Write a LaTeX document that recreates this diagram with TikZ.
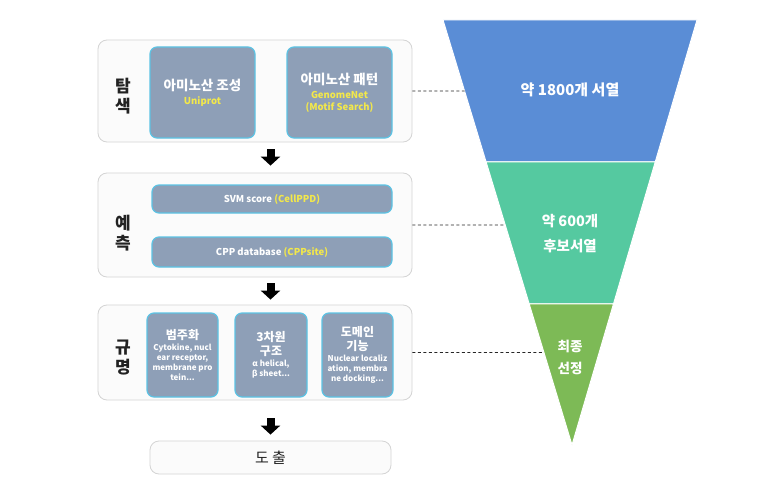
\documentclass[tikz,border=0pt]{standalone}
\usepackage{fontspec}
\setmainfont{Noto Sans CJK KR}
\usepackage{tikz}
\usetikzlibrary{arrows.meta,positioning,calc}
\definecolor{panelline}{HTML}{D4D4D4}
\definecolor{panelbg}{HTML}{FBFBFB}
\definecolor{itemline}{HTML}{5CC3E4}
\definecolor{itembg}{HTML}{8E9FB7}
\definecolor{subyellow}{HTML}{F3E84A}
\definecolor{labeltext}{HTML}{222222}
\definecolor{funnelblue}{HTML}{5A8DD6}
\definecolor{funnelteal}{HTML}{55C9A0}
\definecolor{funnelgreen}{HTML}{7DBA56}
\newcommand{\subtxt}[1]{{\fontsize{9.5}{11}\selectfont\color{subyellow}#1}}
\newcommand{\headtxt}[1]{{\fontsize{12}{13}\selectfont #1}}

\begin{document}
\begin{tikzpicture}[x=1pt,y=-1pt,
    panel/.style={draw=panelline, fill=panelbg, rounded corners=9pt, line width=0.8pt, inner sep=0pt},
    item/.style={draw=itemline, fill=itembg, rounded corners=7pt, line width=1.2pt, inner sep=0pt, text=white, align=center},
    side/.style={font=\fontsize{17}{20}\selectfont\bfseries, text=labeltext, align=center},
    bigarrow/.style={-{Triangle[width=19pt,length=9pt]}, line width=8pt},
    guide/.style={draw=black!85, dash pattern=on 3pt off 2.5pt, line width=0.8pt},
    funnel/.style={draw=white, line width=1pt}
  ]
    \useasboundingbox (0,0) rectangle (776,503);
    \fill[white] (0,0) rectangle (776,503);

    % left: three steps
    \node [panel, minimum width=314pt, minimum height=102pt] (p1) at (255,91) {};
    \node [panel, minimum width=314pt, minimum height=104pt] (p2) at (255,225) {};
    \node [panel, minimum width=314pt, minimum height=95pt] (p3) at (255,352.5) {};
    \node [panel, minimum width=241pt, minimum height=33pt, font=\fontsize{15}{18}\selectfont, text=labeltext] (out) at (270.5,457.5) {도 출};

    \node [side] (l1) at (123,96) {탐\\색};
    \node [side] (l2) at (123,233) {예\\측};
    \node [side] (l3) at (123,357.5) {규\\명};

    \node [item, minimum width=105pt, minimum height=91pt, font=\fontsize{13.5}{15}\selectfont\bfseries] (a1) at (202.5,92.5)
        {아미노산 조성\\[-1pt]\subtxt{Uniprot}};
    \node [item, minimum width=105pt, minimum height=91pt, font=\fontsize{13.5}{15}\selectfont\bfseries] (a2) at (339.5,92.5)
        {아미노산 패턴\\[-1pt]\subtxt{GenomeNet}\\[-3pt]\subtxt{(Motif Search)}};

    \node [item, minimum width=240pt, minimum height=28pt, font=\fontsize{9.5}{11}\selectfont\bfseries] (b1) at (272,199)
        {SVM score {\color{subyellow}(CellPPD)}};
    \node [item, minimum width=240pt, minimum height=30pt, font=\fontsize{9.5}{11}\selectfont\bfseries] (b2) at (272,252)
        {CPP database {\color{subyellow}(CPPsite)}};

    \node [item, minimum width=71pt, minimum height=84pt, font=\fontsize{8}{10}\selectfont\bfseries] (c1) at (182.5,355)
        {\headtxt{범주화}\\[1pt]Cytokine, nucl\\ear receptor,\\membrane pro\\tein...};
    \node [item, minimum width=72pt, minimum height=84pt, font=\fontsize{8}{10}\selectfont\bfseries] (c2) at (271,355)
        {\headtxt{3차원}\\[2pt]\headtxt{구조}\\[1pt]α helical,\\β sheet...};
    \node [item, minimum width=71pt, minimum height=84pt, font=\fontsize{8}{10}\selectfont\bfseries] (c3) at (357.5,355)
        {\headtxt{도메인}\\[2pt]\headtxt{기능}\\[1pt]Nuclear localiz\\ation, membra\\ne docking...};

    \draw [bigarrow, shorten <=7pt, shorten >=7pt] (p1.south -| out.north) -- (p2.north -| out.north);
    \draw [bigarrow, shorten <=6pt, shorten >=5pt] (p2.south -| out.north) -- (p3.north -| out.north);
    \draw [bigarrow, shorten <=18pt, shorten >=6pt] (p3.south -| out.north) -- (out.north);

    % right: funnel
    \coordinate (ftl) at (443,20);
    \coordinate (ftr) at (697,20);
    \coordinate (apex) at (572,445);
    \coordinate (s1l) at ($(ftl)!0.3341!(apex)$);
    \coordinate (s1r) at ($(ftr)!0.3341!(apex)$);
    \coordinate (s2l) at ($(ftl)!0.6682!(apex)$);
    \coordinate (s2r) at ($(ftr)!0.6682!(apex)$);
    \filldraw [funnel, fill=funnelblue] (ftl) -- (ftr) -- (s1r) -- (s1l) -- cycle;
    \filldraw [funnel, fill=funnelteal] (s1l) -- (s1r) -- (s2r) -- (s2l) -- cycle;
    \filldraw [funnel, fill=funnelgreen] (s2l) -- (s2r) -- (apex) -- cycle;

    \node [text=white, font=\fontsize{15}{18}\selectfont\bfseries] (n1) at (570,90) {약 1800개 서열};
    \node [text=white, align=center, font=\fontsize{14.5}{25}\selectfont\bfseries] (n2) at (570,234) {약 600개\\후보서열};
    \node [text=white, align=center, font=\fontsize{13.5}{22}\selectfont\bfseries] (n3) at (570,357) {최종\\선정};

    \coordinate (e1) at ($(ftl)!0.167!(apex)$);
    \coordinate (e2) at ($(ftl)!0.4824!(apex)$);
    \coordinate (e3) at ($(ftl)!0.7824!(apex)$);
    \draw [guide] (p1.east) -- (e1);
    \draw [guide] (p2.east) -- (e2);
    \draw [guide] (p3.east) -- (e3);
\end{tikzpicture}
\end{document}
